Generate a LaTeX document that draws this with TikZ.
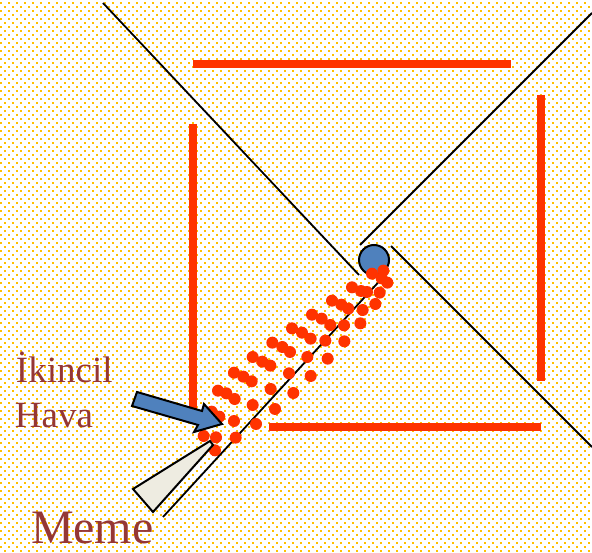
\documentclass[tikz,border=0pt]{standalone}
\usepackage{fontspec}
\setmainfont{Liberation Serif}
\definecolor{bgdot}{HTML}{FFC000}
\definecolor{redbar}{HTML}{FF3300}
\definecolor{bluefill}{HTML}{4F81BD}
\definecolor{creamfill}{HTML}{EEECE1}
\definecolor{labelred}{HTML}{953735}
\tikzset{
  bar/.style={draw=redbar,line width=8pt},
  thin line/.style={draw=black,line width=1.8pt},
  outlined/.style={draw=black,line width=2pt,line join=miter},
  lbl/.style={text=labelred,anchor=base west,inner sep=0pt,outer sep=0pt},
  dotrow/.style={draw=bgdot,line width=2.3pt,dash pattern=on 2.3pt off 5.7pt},
}
\begin{document}
\begin{tikzpicture}[x=1pt,y=-1pt]
\useasboundingbox (0,0) rectangle (592,553);
\fill[white] (0,0) rectangle (592,553);
% dotted background
\foreach \j in {0,...,69}{
  \draw[dotrow] (0,{\j*8+3}) -- (592,{\j*8+3});
  \draw[dotrow] (4,{\j*8+7}) -- (592,{\j*8+7});
}
% walls
\draw[bar] (193,64) -- (511,64);
\draw[bar] (541,95) -- (541,381);
\draw[bar] (193,124) -- (193,416);
\draw[bar] (269,427) -- (541,427);
% thin lines
\draw[thin line] (103,3) -- (359,275);
\draw[thin line] (592,13) -- (360,245);
\draw[thin line] (391,246) -- (592,447);
\draw[thin line] (163,517) -- (385,275);
% ball
\draw[outlined,fill=bluefill] (374,260) circle (15);
% droplets
\foreach \x/\y in {610/122,576/131,622/158,605/145,516/172,543/183,561/186,599/188,586/222,
  456/212,484/224,505/236,548/240,541/280,396/254,425/266,451/285,492/286,493/334,
  336/295,366/308,392/326,436/332,443/386,277/338,307/351,330/366,382/381,392/438,
  218/381,247/395,271/407,327/430,340/489,162/428,190/440,215/454,272/477,285/537,
  114/482,139/490,164/507,218/525,228/582,95/545,118/560,162/573,167/623,71/618,108/622,105/661}
  \fill[redbar] ({180+\x/3},{230+\y/3}) circle (6);
% nozzle
\draw[outlined,fill=creamfill] (133,489) -- (210,441) -- (213,445) -- (153,512) -- cycle;
% secondary-air arrow
\draw[outlined,fill=bluefill] (137,392) -- (202,411) -- (204,404) -- (222,424) -- (194,432) -- (198,425) -- (132,406) -- cycle;
% labels
\node[lbl,font=\fontsize{37}{37}\selectfont] (ikincil) at (16,382) {İkincil};
\node[lbl,font=\fontsize{37}{37}\selectfont] (hava) at (15,427) {Hava};
\node[lbl,font=\fontsize{48}{48}\selectfont] (meme) at (31,543) {Meme};
\end{tikzpicture}
\end{document}
